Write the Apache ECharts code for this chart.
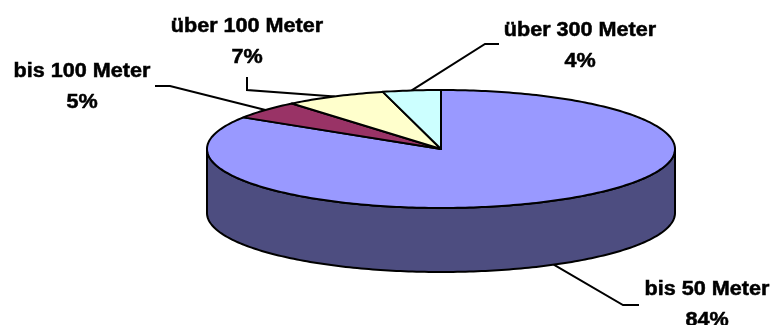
<!DOCTYPE html>
<html>
<head>
<meta charset="utf-8">
<script src="https://cdn.jsdelivr.net/npm/echarts@6/dist/echarts.min.js"></script>
<style>
  html, body { margin: 0; padding: 0; background: #fff; }
  #chart { width: 772px; height: 325px; }
</style>
</head>
<body>
<div id="chart"></div>
<script>
// Daten (im Uhrzeigersinn ab 12 Uhr)
let categories = ['bis 50 Meter', 'bis 100 Meter', 'über 100 Meter', 'über 300 Meter']
let values = [84, 5, 7, 4]
let percentLabels = ['84%', '5%', '7%', '4%']

let topColors = ['#9999FF', '#993366', '#FFFFCC', '#CCFFFF']
let sideColors = ['#4D4D80', '#4D1A33', '#808066', '#668080']

// Geometrie der Torte
let cx = 441, cy = 149, rx = 234, ry = 59, depth = 64

// Beschriftungen: Mitte des Textblocks, Knick und Ende der Führungslinie
let labelPos = [[707, 305], [82, 87], [247, 42], [580, 46]]
let leaderPts = [
  [[623, 305], [639, 305]],
  [[170, 86], [155, 86]],
  [[247, 90], [247, 77]],
  [[485, 44], [499, 44]]
]

let total = values.reduce((a, b) => a + b, 0)
let startAngles = []
let acc = 0
values.forEach(v => { startAngles.push(acc / total * 360); acc += v })

// Winkel in Grad, im Uhrzeigersinn ab oben
function rim(deg, dy) {
  let r = deg * Math.PI / 180
  return [cx + rx * Math.sin(r), cy - ry * Math.cos(r) + (dy || 0)]
}

function renderSide(params, api) {
  let i = params.dataIndex
  let a0 = startAngles[i]
  let a1 = a0 + api.value(0) / total * 360
  let s = Math.max(a0, 90), e = Math.min(a1, 270)
  if (s >= e) return null
  let top = [], bottom = []
  for (let d = s; d <= e; d += 1) { top.push(rim(d)); bottom.push(rim(d, depth)) }
  top.push(rim(e)); bottom.push(rim(e, depth))
  return {
    type: 'polygon',
    shape: { points: top.concat(bottom.reverse()) },
    style: { fill: sideColors[i], stroke: '#000', lineWidth: 2 }
  }
}

function renderTop(params, api) {
  let i = params.dataIndex
  let a0 = startAngles[i]
  let a1 = a0 + api.value(0) / total * 360
  let pts = [[cx, cy]]
  for (let d = a0; d < a1; d += 1) pts.push(rim(d))
  pts.push(rim(a1))
  return {
    type: 'polygon',
    shape: { points: pts },
    style: { fill: topColors[i], stroke: '#000', lineWidth: 2, lineJoin: 'round' }
  }
}

function renderLabel(params, api) {
  let i = params.dataIndex
  let mid = startAngles[i] + api.value(0) / total * 180
  let front = Math.cos(mid * Math.PI / 180) < 0
  let start = rim(mid, front ? depth : 0)
  return {
    type: 'group',
    children: [
      {
        type: 'polyline',
        shape: { points: [start].concat(leaderPts[i]) },
        style: { stroke: '#000', lineWidth: 2, fill: null }
      },
      {
        type: 'text',
        x: labelPos[i][0],
        y: labelPos[i][1],
        scaleX: 1.08,
        style: {
          text: categories[i] + '\n' + percentLabels[i],
          x: 0, y: 0,
          align: 'center',
          verticalAlign: 'middle',
          fontFamily: 'Liberation Sans, Arial, sans-serif',
          fontWeight: 'bold',
          fontSize: 20,
          lineHeight: 31,
          fill: '#000',
          stroke: '#000',
          lineWidth: 0.5
        }
      }
    ]
  }
}

let myChart = echarts.init(document.getElementById('chart'))
let option = {
  backgroundColor: '#fff',
  animation: false,
  series: [
    { type: 'custom', coordinateSystem: 'none', renderItem: renderLabel, data: values, z: 1 },
    { type: 'custom', coordinateSystem: 'none', renderItem: renderSide, data: values, z: 2 },
    { type: 'custom', coordinateSystem: 'none', renderItem: renderTop, data: values, z: 3 }
  ]
}
myChart.setOption(option)
</script>
</body>
</html>
